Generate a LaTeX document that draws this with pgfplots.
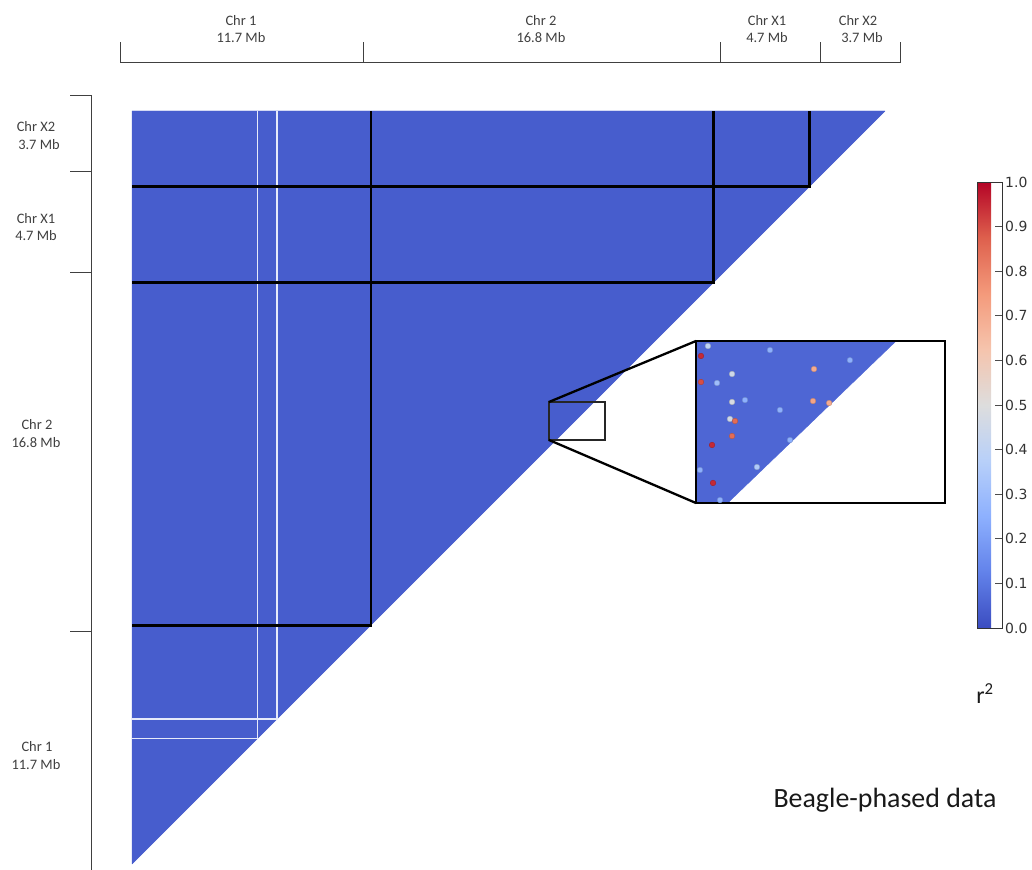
\documentclass[border=0pt]{standalone}
\usepackage{pgfplots}
\pgfplotsset{compat=1.18}
\usepackage{fontspec}
\setmainfont{Carlito}
\newfontfamily\dejavu{DejaVu Sans}
\pgfplotsset{colormap={coolwarm}{rgb255=(59,76,192) rgb255=(98,130,234) rgb255=(141,176,254) rgb255=(184,208,249) rgb255=(221,221,221) rgb255=(245,196,173) rgb255=(244,154,123) rgb255=(222,96,77) rgb255=(180,4,38)}}
\definecolor{annot}{RGB}{64,64,64}
\definecolor{gapwhite}{RGB}{230,234,250}
\begin{document}
\begin{tikzpicture}
\path[use as bounding box] (0,0) rectangle (1032bp,-870bp);
% ---------- main LD triangle ----------
\begin{axis}[name=main, at={(132bp,-864bp)}, anchor=south west,
  width=753bp, height=753bp, scale only axis,
  xmin=0, xmax=36.9, ymin=0, ymax=36.9,
  hide axis, clip=false,
  colormap name=coolwarm, point meta min=0, point meta max=1,
  colorbar,
  colorbar style={at={(parent axis.north east)}, anchor=north west,
    xshift=83.5bp, yshift=-71bp, width=25bp, height=446bp, scale only axis,
    ytick={0,0.1,0.2,0.3,0.4,0.5,0.6,0.7,0.8,0.9,1},
    tick align=inside, ytick pos=right,
    yticklabel style={font=\dejavu\fontsize{14}{14}\selectfont, text=black!80,
      inner sep=0pt, xshift=3bp,
      /pgf/number format/fixed, /pgf/number format/fixed zerofill,
      /pgf/number format/precision=1, /pgf/number format/assume math mode=true},
    major tick length=7bp, tick style={black!70, line width=0.7bp},
    axis line style={black!80, line width=0.8bp}}]
\addplot[patch, patch type=triangle, shader=flat, point meta=explicit]
  table[meta=r2] {
x y r2
0 0 0.04
0 36.9 0.04
36.9 36.9 0.04
};
% missing-data rows/columns (white gaps)
\addplot[gapwhite, line width=1.8bp] coordinates {(6.15,6.15) (6.15,36.9)};
\addplot[gapwhite, line width=1.8bp] coordinates {(7.1,7.1) (7.1,36.9)};
\addplot[gapwhite, line width=1.8bp] coordinates {(0,6.15) (6.15,6.15)};
\addplot[gapwhite, line width=1.8bp] coordinates {(0,7.1) (7.1,7.1)};
% chromosome block borders
\addplot[black, line width=2.5bp] coordinates {(0,11.7) (11.7,11.7) (11.7,36.9)};
\addplot[black, line width=2.5bp] coordinates {(0,28.5) (28.5,28.5) (28.5,36.9)};
\addplot[black, line width=2.5bp] coordinates {(0,33.2) (33.2,33.2) (33.2,36.9)};
% zoom rectangle
\draw[black!85, line width=1.3bp] (axis cs:20.43,20.78) rectangle (axis cs:23.18,22.64);
\coordinate (zrNW) at (axis cs:20.43,22.64);
\coordinate (zrSW) at (axis cs:20.43,20.78);
\end{axis}
% ---------- zoomed inset ----------
\begin{axis}[name=inset, at={(696bp,-503bp)}, anchor=south west,
  width=249bp, height=162bp, scale only axis,
  xmin=20.43, xmax=23.18, ymin=20.78, ymax=22.64,
  xtick=\empty, ytick=\empty, axis on top,
  axis line style={black, line width=2.5bp},
  colormap name=coolwarm, point meta min=0, point meta max=1]
\addplot[patch, patch type=triangle, shader=flat, point meta=explicit]
  table[meta=r2] {
x y r2
20 20 0.06
20 24 0.06
24 24 0.06
};
\addplot[scatter, only marks, mark=*, mark size=2.8bp, scatter src=explicit,
  mark options={draw=none}] table[meta=r2] {
x y r2
20.485 22.468 0.95
20.485 22.169 0.90
20.828 22.261 0.45
20.828 21.940 0.48
20.805 21.745 0.45
20.861 21.721 0.85
20.828 21.549 0.85
20.607 21.446 0.95
20.618 21.010 0.95
21.733 22.318 0.70
21.722 21.951 0.72
21.900 21.928 0.70
21.103 21.193 0.35
20.562 22.582 0.40
20.662 22.158 0.30
21.247 22.536 0.25
21.468 21.503 0.25
20.971 21.962 0.25
20.474 21.159 0.25
22.130 22.420 0.25
21.357 21.848 0.25
20.695 20.814 0.25
};
\end{axis}
\draw[black, line width=2.3bp] (zrNW) -- (inset.north west);
\draw[black, line width=2.3bp] (zrSW) -- (inset.south west);
% ---------- top chromosome bracket ----------
\draw[annot, line width=1bp] (120bp,-42bp) -- (120bp,-62bp) -- (900bp,-62bp) -- (900bp,-42bp);
\foreach \xx in {363,720,820} \draw[annot, line width=1bp] (\xx bp,-42bp) -- (\xx bp,-62bp);
\begin{scope}[every node/.style={font=\fontsize{14.5}{14.5}\selectfont, text=annot, anchor=base, inner sep=0pt}]
\node at (241bp,-25bp) {Chr 1};   \node at (241bp,-42bp) {11.7 Mb};
\node at (541bp,-25bp) {Chr 2};   \node at (541bp,-42bp) {16.8 Mb};
\node at (767bp,-25bp) {Chr X1};  \node at (767bp,-42bp) {4.7 Mb};
\node at (858bp,-25bp) {Chr X2};  \node at (862bp,-42bp) {3.7 Mb};
\end{scope}
% ---------- left chromosome bracket ----------
\draw[annot, line width=1bp] (70bp,-95bp) -- (91bp,-95bp) -- (91bp,-870bp);
\foreach \yy in {171,272,631} \draw[annot, line width=1bp] (70bp,-\yy bp) -- (91bp,-\yy bp);
\begin{scope}[every node/.style={font=\fontsize{14.5}{14.5}\selectfont, text=annot, anchor=base, inner sep=0pt}]
\node at (36bp,-131bp) {Chr X2};  \node at (39bp,-149bp) {3.7 Mb};
\node at (36bp,-223bp) {Chr X1};  \node at (36bp,-240bp) {4.7 Mb};
\node at (37bp,-429bp) {Chr 2};   \node at (36bp,-447bp) {16.8 Mb};
\node at (37bp,-751bp) {Chr 1};   \node at (36bp,-769bp) {11.7 Mb};
\end{scope}
% ---------- labels ----------
\node[font=\fontsize{24}{24}\selectfont, text=black!90, anchor=base, inner sep=0pt] at (985bp,-703bp) {r\textsuperscript{2}};
\node[font=\fontsize{28}{28}\selectfont, text=black!90] at (885bp,-800bp) {Beagle-phased data};
\end{tikzpicture}
\end{document}
